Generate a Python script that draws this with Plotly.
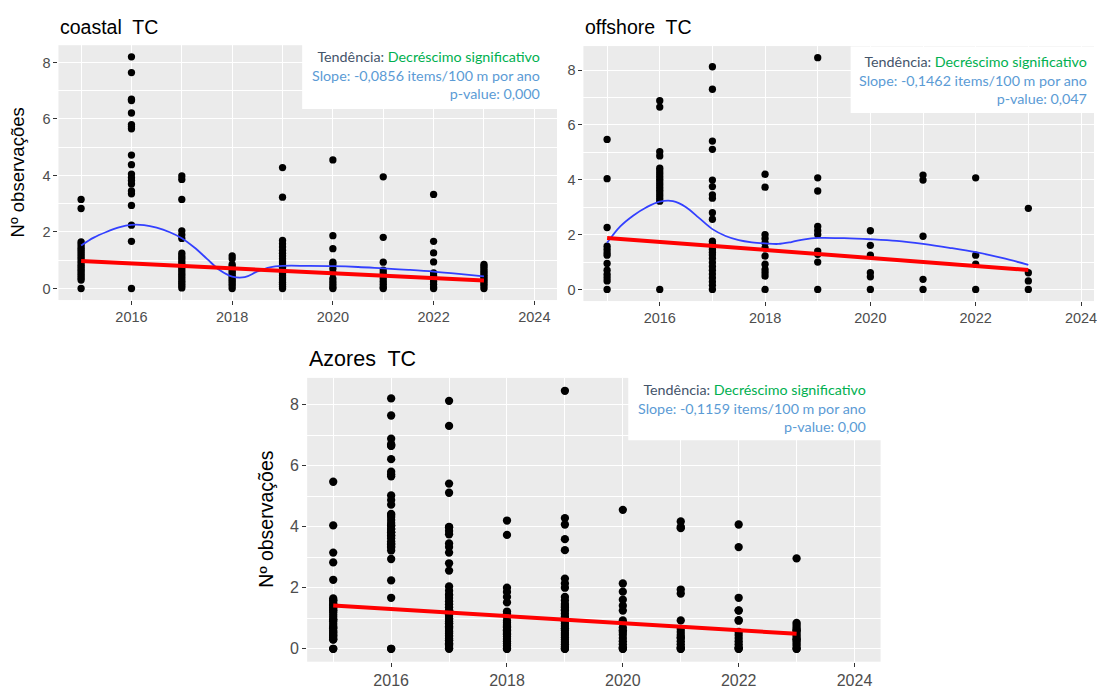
import plotly.graph_objects as go

W, H = 1097, 689

years = [2015, 2016, 2017, 2018, 2019, 2020, 2021, 2022, 2023]

coastal_obs = [
    [3.15, 2.83, 1.65, 1.58, 1.5, 1.42, 1.35, 1.27, 1.2, 1.12, 1.05, 0.97, 0.9, 0.82, 0.75, 0.67, 0.6, 0.52, 0.45, 0.37, 0.3, 0.0],
    [8.2, 7.64, 6.7, 6.65, 6.21, 5.8, 5.72, 5.65, 4.72, 4.38, 4.05, 3.92, 3.82, 3.7, 3.45, 3.35, 2.94, 2.24, 1.67, 0.0],
    [3.98, 3.86, 3.15, 2.04, 1.9, 1.77, 1.25, 1.15, 1.07, 0.98, 0.9, 0.82, 0.74, 0.66, 0.58, 0.5, 0.42, 0.34, 0.26, 0.18, 0.1, 0.02],
    [1.15, 1.05, 0.85, 0.78, 0.7, 0.62, 0.55, 0.47, 0.4, 0.32, 0.25, 0.17, 0.1, 0.0],
    [4.28, 3.23, 1.7, 1.58, 1.47, 1.35, 1.25, 1.15, 1.05, 0.97, 0.9, 0.82, 0.75, 0.67, 0.6, 0.52, 0.45, 0.37, 0.3, 0.22, 0.15, 0.07, 0.0],
    [4.55, 1.87, 1.41, 0.93, 0.85, 0.7, 0.55, 0.35, 0.25, 0.15, 0.05, 0.0],
    [3.95, 1.81, 0.93, 0.65, 0.55, 0.45, 0.35, 0.25, 0.15, 0.05, 0.0],
    [3.33, 1.67, 1.26, 0.94, 0.55, 0.45, 0.35, 0.25, 0.15, 0.05, 0.0],
    [0.85, 0.78, 0.7, 0.62, 0.55, 0.47, 0.4, 0.32, 0.25, 0.17, 0.1, 0.0],
]

offshore_obs = [
    [5.47, 4.04, 2.26, 1.58, 1.46, 1.34, 1.25, 0.95, 0.7, 0.55, 0.43, 0.31, 0.0],
    [6.88, 6.65, 5.02, 4.87, 4.42, 4.32, 4.22, 4.12, 4.02, 3.92, 3.82, 3.72, 3.62, 3.52, 3.42, 3.32, 3.22, 0.0],
    [8.12, 7.3, 5.41, 5.11, 3.99, 3.75, 3.45, 3.33, 2.8, 2.56, 1.76, 1.66, 1.56, 1.46, 1.36, 1.26, 1.13, 0.98, 0.84, 0.7, 0.56, 0.42, 0.28, 0.15, 0.0],
    [4.2, 3.73, 2.0, 1.86, 1.7, 1.52, 1.22, 0.92, 0.73, 0.61, 0.49, 0.0],
    [8.45, 4.07, 3.59, 2.3, 2.14, 2.0, 1.4, 1.28, 1.0, 0.0],
    [2.14, 1.61, 1.25, 0.61, 0.46, 0.0],
    [4.17, 3.99, 1.94, 0.37, 0.0],
    [4.07, 1.25, 0.92, 0.0],
    [2.96, 0.61, 0.31, 0.0],
]

# Azores = all stations (coastal + offshore)
azores_obs = [c + o for c, o in zip(coastal_obs, offshore_obs)]

smooth_years = [2015, 2015.25, 2015.5, 2015.75, 2016, 2016.25, 2016.5, 2016.75, 2017, 2017.25,
                2017.5, 2017.75, 2018, 2018.25, 2018.5, 2018.75, 2019, 2019.5, 2020, 2020.5,
                2021, 2021.5, 2022, 2022.5, 2023]
coastal_smooth = [1.52, 1.8, 2.0, 2.16, 2.25, 2.24, 2.15, 2.0, 1.78, 1.45,
                  1.05, 0.65, 0.42, 0.4, 0.6, 0.75, 0.8, 0.8, 0.79, 0.76,
                  0.71, 0.66, 0.6, 0.52, 0.43]
offshore_smooth = [1.7, 2.3, 2.7, 3.0, 3.2, 3.22, 3.0, 2.6, 2.2, 1.95,
                   1.8, 1.72, 1.68, 1.66, 1.73, 1.83, 1.88, 1.87, 1.83, 1.77,
                   1.66, 1.52, 1.36, 1.15, 0.9]

trend_years = [2015, 2023]
coastal_trend = [0.97, 0.285]
offshore_trend = [1.88, 0.71]
azores_trend = [1.42, 0.49]

titles = ["coastal  TC", "offshore  TC", "Azores  TC"]
slopes = ["-0,0856", "-0,1462", "-0,1159"]
pvalues = ["0,000", "0,047", "0,00"]
ytitle = "Nº observações"


def fx(px):
    return px / W


def fy(py):
    return 1 - py / H


fig = go.Figure()

panels = [
    dict(obs=coastal_obs, smooth=coastal_smooth, trend=coastal_trend, xd=(58.6, 558.5), yd=(45.6, 302.7),
         xr=[2014.55, 2024.45], yr=[-0.41, 8.61], ms=7.3, tf=14.5),
    dict(obs=offshore_obs, smooth=offshore_smooth, trend=offshore_trend, xd=(585, 1097), yd=(46.5, 303.7),
         xr=[2014.55, 2014.55 + (1097 - 585) / 52.8], yr=[-0.4225, 8.8725], ms=7.3, tf=14.5),
    dict(obs=azores_obs, smooth=None, trend=azores_trend, xd=(308, 883), yd=(381.2, 667.5),
         xr=[2014.55, 2024.45], yr=[-0.4225, 8.8725], ms=8.3, tf=16),
]

for i, p in enumerate(panels):
    n = "" if i == 0 else str(i + 1)
    xa, ya = "x" + n, "y" + n
    xs, ys = [], []
    for yr_, vals in zip(years, p["obs"]):
        xs += [yr_] * len(vals)
        ys += vals
    fig.add_trace(go.Scatter(x=xs, y=ys, mode="markers", xaxis=xa, yaxis=ya,
                             marker=dict(color="black", size=p["ms"]), showlegend=False, hoverinfo="skip"))
    if p["smooth"] is not None:
        fig.add_trace(go.Scatter(x=smooth_years, y=p["smooth"], mode="lines", xaxis=xa, yaxis=ya,
                                 line=dict(color="#3340FF", width=1.8, shape="spline"), showlegend=False))
    fig.add_trace(go.Scatter(x=trend_years, y=p["trend"], mode="lines", xaxis=xa, yaxis=ya,
                             line=dict(color="#FF0000", width=4), showlegend=False))

    axcommon = dict(showline=False, zeroline=False, ticks="outside", ticklen=4, tickwidth=1,
                    tickcolor="#333333", gridcolor="white", gridwidth=1.4,
                    tickfont=dict(family="Liberation Sans, Arial", size=p["tf"], color="#4D4D4D"))
    fig.update_layout(**{
        "xaxis" + n: dict(domain=[fx(p["xd"][0]), fx(p["xd"][1])], range=p["xr"], anchor=ya,
                          tickmode="linear", tick0=2016, dtick=2, ticklabeloverflow="allow",
                          minor=dict(dtick=1, tick0=2015, showgrid=True, gridcolor="white", gridwidth=0.7),
                          **axcommon),
        "yaxis" + n: dict(domain=[fy(p["yd"][1]), fy(p["yd"][0])], range=p["yr"], anchor=xa,
                          tickmode="linear", tick0=0, dtick=2,
                          minor=dict(dtick=1, tick0=0, showgrid=True, gridcolor="white", gridwidth=0.7),
                          **axcommon),
    })

shapes = []
annotations = []

boxes = [(303, 15, 560, 110, 543, 76), (853, 47, 1097, 114, 1092, 81), (630, 370, 884, 444, 870, 411.5)]
for (x0, y0, x1, y1, tx, ty), s, pv in zip(boxes, slopes, pvalues):
    shapes.append(dict(type="rect", xref="paper", yref="paper", x0=fx(x0), x1=fx(x1), y0=fy(y1), y1=fy(y0),
                       fillcolor="white", line=dict(width=0), layer="above"))
    txt = ("<span style='color:#44546A'>Tendência: </span>"
           "<span style='color:#00B050'>Decréscimo significativo</span><br>"
           f"Slope: {s} items/100 m por ano<br>p-value: {pv}")
    annotations.append(dict(xref="paper", yref="paper", x=fx(tx), y=fy(ty), xanchor="right", yanchor="middle",
                            align="right", showarrow=False, text=txt,
                            font=dict(family="Lato", size=14.3, color="#5B9BD5")))

for (tx, ty, fs), t in zip([(58, 27, 19.5), (585, 27, 19.5), (308, 362, 21.5)], titles):
    annotations.append(dict(xref="paper", yref="paper", x=fx(tx), y=fy(ty), xanchor="left", yanchor="middle",
                            showarrow=False, text=t, font=dict(family="Liberation Sans, Arial", size=fs, color="black")))

for tx, ty, fs in [(18, 174, 18.5), (267, 524, 19.5)]:
    annotations.append(dict(xref="paper", yref="paper", x=fx(tx), y=fy(ty), xanchor="center", yanchor="middle",
                            showarrow=False, text=ytitle, textangle=-90,
                            font=dict(family="Liberation Sans, Arial", size=fs, color="black")))

fig.update_layout(width=W, height=H, margin=dict(l=0, r=0, t=0, b=0), paper_bgcolor="white",
                  plot_bgcolor="#EBEBEB", showlegend=False, shapes=shapes, annotations=annotations)

fig.write_html("out.html")
